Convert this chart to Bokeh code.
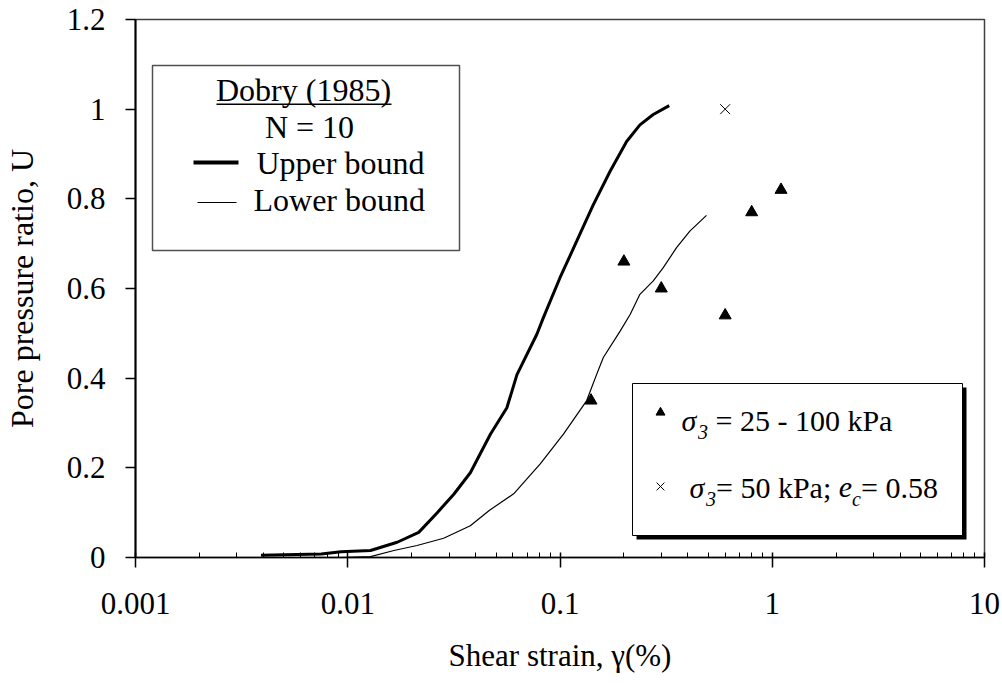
import math
from bokeh.plotting import figure
from bokeh.models import FixedTicker, CustomJSTickFormatter, Label, BoxAnnotation
from bokeh.embed import file_html
from bokeh.resources import INLINE

# ---------------- data ----------------
upper_x = [0.0039, 0.0075, 0.0093, 0.0128, 0.0171, 0.0216, 0.0264, 0.0316, 0.0378, 0.047,
           0.0562, 0.0627, 0.0778, 0.0835, 0.1, 0.12, 0.1436, 0.172, 0.206, 0.238, 0.275, 0.327]
upper_y = [0.005, 0.008, 0.013, 0.0156, 0.034, 0.056, 0.1, 0.141, 0.189, 0.275,
           0.334, 0.408, 0.498, 0.535, 0.624, 0.706, 0.787, 0.861, 0.928, 0.965, 0.988, 1.008]
lower_x = [0.0092, 0.0128, 0.0165, 0.0212, 0.0283, 0.0378, 0.0464, 0.0605, 0.0807, 0.1038,
           0.1336, 0.149, 0.16, 0.192, 0.214, 0.238, 0.275, 0.306, 0.354, 0.409, 0.49]
lower_y = [0.0, 0.002, 0.0156, 0.0267, 0.043, 0.071, 0.105, 0.142, 0.209, 0.275,
           0.35, 0.409, 0.446, 0.505, 0.542, 0.587, 0.617, 0.646, 0.691, 0.728, 0.763]
tri_x = [0.14, 0.2, 0.3, 0.6, 0.8, 1.1]
tri_y = [0.35, 0.66, 0.60, 0.54, 0.77, 0.82]
cross_x = [0.6]
cross_y = [1.0]
x_ticks = [0.001, 0.01, 0.1, 1, 10]
x_tick_labels = ["0.001", "0.01", "0.1", "1", "10"]
y_ticks = [0, 0.2, 0.4, 0.6, 0.8, 1, 1.2]
y_tick_labels = ["0", "0.2", "0.4", "0.6", "0.8", "1", "1.2"]

X_RANGE = (0.001, 10)
Y_RANGE = (0, 1.2)
FW, FH = 849, 538
FONT = "Liberation Serif"

# Times-compatible advance widths (1/1000 em)
TW = {' ': 250, '=': 564, '-': 333, '.': 250, ';': 278, 'k': 500, 'P': 556, 'a': 444,
      'e': 444, 'c': 444, 'σ': 550}


def text_w(s, size):
    return sum(TW.get(c, 500) for c in s) / 1000.0 * size


p = figure(x_axis_type="log", x_range=X_RANGE, y_range=Y_RANGE,
           frame_width=FW, frame_height=FH,
           min_border_left=132, min_border_right=19, min_border_top=19, min_border_bottom=125,
           output_backend="svg", toolbar_location=None,
           background_fill_color="white", border_fill_color="white")
p.grid.visible = False
p.outline_line_color = "#404040"
p.outline_line_width = 1.5

fmt_code = """
const i = tvals.findIndex(t => Math.abs(t - tick) <= 1e-9 * Math.max(Math.abs(t), 1e-12));
return i < 0 ? "" : tlabs[i];
"""

xa = p.xaxis[0]
xa.ticker = FixedTicker(ticks=x_ticks,
                        minor_ticks=[m * 10.0 ** e for e in range(-3, 1) for m in range(2, 10)])
xa.formatter = CustomJSTickFormatter(args=dict(tvals=x_ticks, tlabs=x_tick_labels), code=fmt_code)
xa.axis_line_width = 1.5
xa.axis_line_color = "black"
xa.major_tick_in = 5
xa.major_tick_out = 10
xa.minor_tick_in = 5
xa.minor_tick_out = 0
xa.major_tick_line_width = 1.5
xa.minor_tick_line_width = 1
xa.major_tick_line_color = "black"
xa.minor_tick_line_color = "black"
xa.major_label_text_font = FONT
xa.major_label_text_font_size = "31px"
xa.major_label_text_color = "black"
xa.major_label_standoff = 25
xa.axis_label = "Shear strain, γ(%)"
xa.axis_label_text_font = FONT
xa.axis_label_text_font_size = "31px"
xa.axis_label_text_font_style = "normal"
xa.axis_label_text_color = "black"
xa.axis_label_standoff = 21

ya = p.yaxis[0]
ya.ticker = FixedTicker(ticks=y_ticks, minor_ticks=[])
ya.formatter = CustomJSTickFormatter(args=dict(tvals=y_ticks, tlabs=y_tick_labels), code=fmt_code)
ya.axis_line_width = 2
ya.axis_line_color = "black"
ya.major_tick_in = 0
ya.major_tick_out = 10
ya.minor_tick_in = 0
ya.minor_tick_out = 0
ya.major_tick_line_width = 1.5
ya.major_tick_line_color = "black"
ya.major_label_text_font = FONT
ya.major_label_text_font_size = "31px"
ya.major_label_text_color = "black"
ya.major_label_standoff = 20
ya.axis_label = "Pore pressure ratio, U"
ya.axis_label_text_font = FONT
ya.axis_label_text_font_size = "32px"
ya.axis_label_text_font_style = "normal"
ya.axis_label_text_color = "black"
ya.axis_label_standoff = 24

# ---------------- data marks ----------------
p.line(upper_x, upper_y, line_color="black", line_width=3)
p.line(lower_x, lower_y, line_color="black", line_width=1.2)
p.scatter(tri_x, tri_y, marker="triangle", size=12, color="black")
p.scatter(cross_x, cross_y, marker="x", size=14, line_color="black", line_width=1)


# ---------------- helpers ----------------
def lab(text, sx, base_y, size=32, style="normal", align="left"):
    """Place text with its alphabetic baseline at base_y (screen units, frame-relative)."""
    p.add_layout(Label(x=sx, y=base_y + 0.3375 * size, x_units="screen", y_units="screen",
                       text=text, text_font=FONT, text_font_size=f"{size}px",
                       text_font_style=style, text_align=align, text_baseline="middle",
                       text_color="black"))


def line_of(segments, sx, base_y):
    """segments: (text, size, style, baseline shift, gap before)"""
    x = sx
    for text, size, style, dy, gap in segments:
        x += gap
        lab(text, x, base_y + dy, size=size, style=style)
        x += text_w(text, size)


def box(l, r, b, t, fill, line=None, lw=1.0):
    p.add_layout(BoxAnnotation(left=l, right=r, bottom=b, top=t,
                               left_units="screen", right_units="screen",
                               bottom_units="screen", top_units="screen",
                               fill_color=fill, fill_alpha=1.0,
                               line_color=line, line_width=lw,
                               line_alpha=1.0 if line else 0.0))


def frame_to_data(sx, sy):
    lx0, lx1 = math.log10(X_RANGE[0]), math.log10(X_RANGE[1])
    return (10 ** (lx0 + sx / FW * (lx1 - lx0)),
            Y_RANGE[0] + sy / FH * (Y_RANGE[1] - Y_RANGE[0]))


# ---------------- legend 1 (Dobry) ----------------
box(17, 324, 307, 492, "white", "#505050", 1.5)
lab("Dobry (1985)", 168, 457, align="center")
box(81, 256, 452.5, 454, "black")
lab("N = 10", 174, 420, align="center")
box(58, 103, 393, 397, "black")
lab("Upper bound", 121, 384)
box(62, 101, 354.4, 355.6, "black")
lab("Lower bound", 118, 347)

# ---------------- legend 2 (symbols) ----------------
box(501, 831, 18, 170, "black")
box(497, 827, 22, 174, "white", "black", 1.0)
tx, ty = frame_to_data(525, 145)
p.scatter([tx], [ty], marker="triangle", size=9, color="black", level="overlay")
cx, cy = frame_to_data(525, 71)
p.scatter([cx], [cy], marker="x", size=11, line_color="black", line_width=1, level="overlay")

line_of([("σ", 30, "italic", 0, 0),
         ("3", 20, "italic", -8, 0),
         ("= 25 - 100 kPa", 30, "normal", 0, 7.5)], 546, 127)
line_of([("σ", 30, "italic", 0, 0),
         ("3", 20, "italic", -8, 0),
         ("= 50 kPa;", 30, "normal", 0, 0),
         ("e", 30, "italic", 0, 7.5),
         ("c", 20, "italic", -8, 0),
         ("= 0.58", 30, "normal", 0, 0)], 554, 60)

open("out.html", "w").write(file_html(p, INLINE))
